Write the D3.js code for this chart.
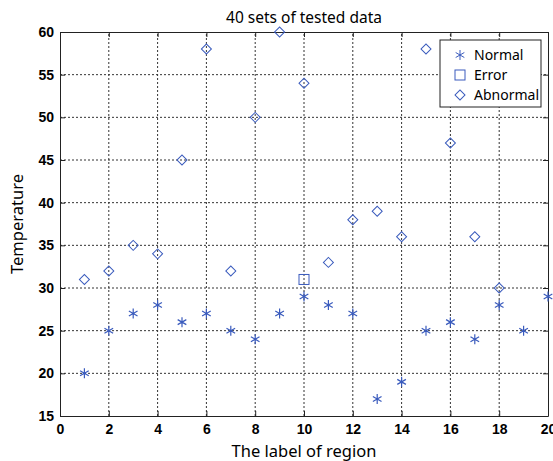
<!DOCTYPE html>
<html>
<head>
<meta charset="utf-8">
<script src="https://cdn.jsdelivr.net/npm/d3@7"></script>
<style>
  body { margin: 0; background: #fff; }
  svg { display: block; }
</style>
</head>
<body>
<div id="chart"></div>
<script>
// values
var regions = [1,2,3,4,5,6,7,8,9,10,11,12,13,14,15,16,17,18,19,20];
var normal = [20,25,27,28,26,27,25,24,27,29,28,27,17,19,25,26,24,28,25,29];
var errorX = [10];
var errorY = [31];
var abnormalX = [1,2,3,4,5,6,7,8,9,10,11,12,13,14,15,16,17,18];
var abnormalY = [31,32,35,34,45,58,32,50,60,54,33,38,39,36,58,47,36,30];
var xTicks = [0,2,4,6,8,10,12,14,16,18,20];
var yTicks = [15,20,25,30,35,40,45,50,55,60];

var width = 553, height = 461;
var margin = {left: 60, top: 32, right: 5, bottom: 45};
var blue = "#3a5bbd";

var svg = d3.select("#chart").append("svg")
    .attr("width", width)
    .attr("height", height);

var x = d3.scaleLinear().domain([0, 20]).range([margin.left, width - margin.right]);
var y = d3.scaleLinear().domain([15, 60]).range([height - margin.bottom, margin.top]);

// grid
var grid = svg.append("g").attr("stroke", "#333").attr("stroke-dasharray", "2,2").attr("stroke-width", 1);
xTicks.slice(1, -1).forEach(function(t) {
    grid.append("line").attr("x1", x(t)).attr("x2", x(t)).attr("y1", y(15)).attr("y2", y(60));
});
yTicks.slice(1, -1).forEach(function(t) {
    grid.append("line").attr("x1", x(0)).attr("x2", x(20)).attr("y1", y(t)).attr("y2", y(t));
});

// axes, ticks pointing in, mirrored on top/right
svg.append("g").attr("transform", "translate(0," + y(15) + ")")
    .call(d3.axisBottom(x).tickValues(xTicks).tickSizeInner(-5).tickSizeOuter(0).tickPadding(8));
svg.append("g").attr("transform", "translate(" + x(0) + ",0)")
    .call(d3.axisLeft(y).tickValues(yTicks).tickSizeInner(-5).tickSizeOuter(0).tickPadding(6));
svg.append("g").attr("transform", "translate(0," + y(60) + ")")
    .call(d3.axisTop(x).tickValues(xTicks).tickSizeInner(-5).tickSizeOuter(0).tickFormat(""));
svg.append("g").attr("transform", "translate(" + x(20) + ",0)")
    .call(d3.axisRight(y).tickValues(yTicks).tickSizeInner(-5).tickSizeOuter(0).tickFormat(""));

svg.selectAll(".domain").attr("stroke", "#222");
svg.selectAll(".tick line").attr("stroke", "#222");
svg.selectAll(".tick text")
    .attr("font-family", "Liberation Sans, Arial, sans-serif")
    .attr("font-weight", "bold")
    .attr("font-size", 14)
    .attr("fill", "#000");

// markers
var star = d3.symbol().type(d3.symbolAsterisk).size(70);

svg.append("g").selectAll("path")
    .data(regions)
    .join("path")
    .attr("d", star)
    .attr("transform", function(d, i) { return "translate(" + x(d) + "," + y(normal[i]) + ")"; })
    .attr("fill", "none").attr("stroke", blue).attr("stroke-width", 1.2);

svg.append("g").selectAll("rect")
    .data(errorX)
    .join("rect")
    .attr("x", function(d) { return x(d) - 5; })
    .attr("y", function(d, i) { return y(errorY[i]) - 5; })
    .attr("width", 10).attr("height", 10)
    .attr("fill", "none").attr("stroke", blue).attr("stroke-width", 1);

svg.append("g").selectAll("path")
    .data(abnormalX)
    .join("path")
    .attr("d", d3.symbol().type(d3.symbolSquare).size(50))
    .attr("transform", function(d, i) { return "translate(" + x(d) + "," + y(abnormalY[i]) + ") rotate(45)"; })
    .attr("fill", "none").attr("stroke", blue).attr("stroke-width", 1);

// legend
var lg = svg.append("g").attr("transform", "translate(440,40)");
lg.append("rect").attr("width", 101).attr("height", 67)
    .attr("fill", "#fff").attr("stroke", "#222");
var items = ["Normal", "Error", "Abnormal"];
items.forEach(function(name, i) {
    var cy = 15 + i * 20;
    if (i === 0) {
        lg.append("path").attr("d", star).attr("transform", "translate(20," + cy + ")")
            .attr("fill", "none").attr("stroke", blue);
    } else if (i === 1) {
        lg.append("rect").attr("x", 15).attr("y", cy - 5).attr("width", 10).attr("height", 10)
            .attr("fill", "none").attr("stroke", blue);
    } else {
        lg.append("path").attr("d", d3.symbol().type(d3.symbolSquare).size(50))
            .attr("transform", "translate(20," + cy + ") rotate(45)")
            .attr("fill", "none").attr("stroke", blue);
    }
    lg.append("text").attr("x", 34).attr("y", cy + 5)
        .attr("font-family", "Noto Sans, sans-serif").attr("font-size", 14)
        .text(name);
});

// titles
svg.append("text").attr("x", x(10)).attr("y", 23)
    .attr("text-anchor", "middle")
    .attr("font-family", "Noto Sans, sans-serif").attr("font-size", 15.5)
    .text("40 sets of tested data");
svg.append("text").attr("x", x(10)).attr("y", 457)
    .attr("text-anchor", "middle")
    .attr("font-family", "Noto Sans, sans-serif").attr("font-size", 16.5)
    .text("The label of region");
svg.append("text").attr("transform", "translate(23," + y(37.5) + ") rotate(-90)")
    .attr("text-anchor", "middle")
    .attr("font-family", "Noto Sans, sans-serif").attr("font-size", 16.5)
    .text("Temperature");
</script>
</body>
</html>
